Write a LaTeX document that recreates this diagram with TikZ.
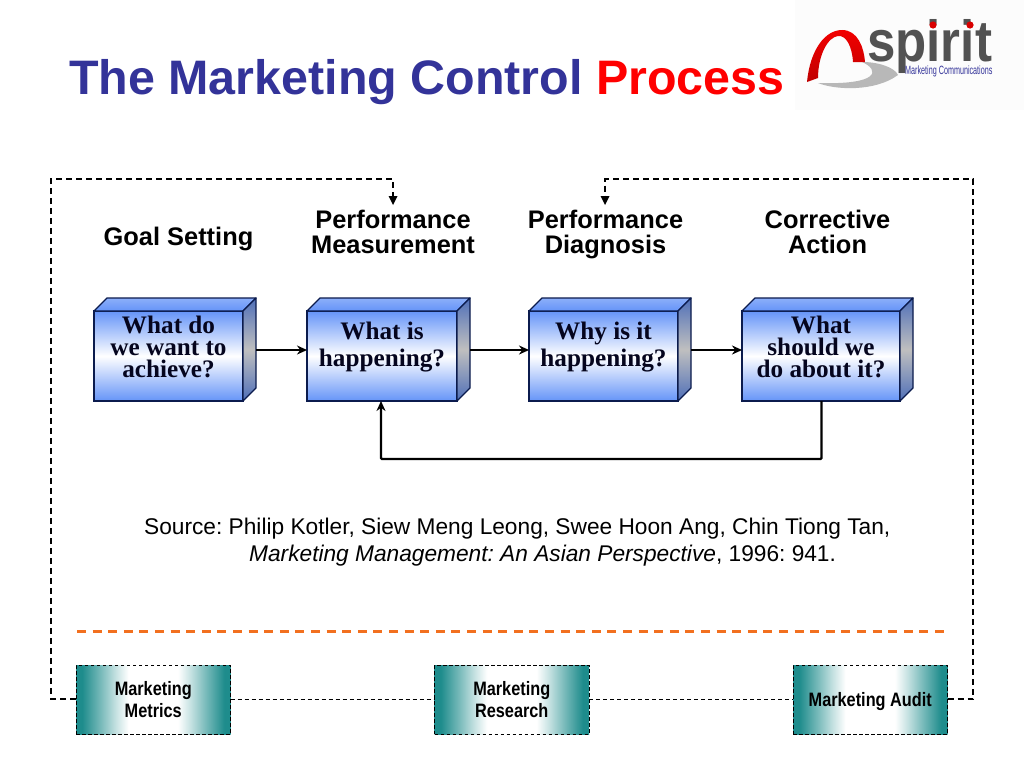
\documentclass[tikz,border=0pt]{standalone}
\usepackage{fontspec}
\setmainfont{Liberation Sans}
\newfontfamily\serifb[Scale=1]{Liberation Serif}
\newfontfamily\narrowb[FakeStretch=0.84]{Liberation Sans}
\newfontfamily\narrowc[FakeStretch=0.6]{Liberation Sans}
\newfontfamily\logof[FakeStretch=0.88]{Liberation Sans}
\usetikzlibrary{arrows.meta,calc}
\definecolor{titleblue}{HTML}{333399}
\definecolor{cubeblue}{HTML}{6594F8}
\definecolor{cubeedge}{HTML}{0B1B4D}
\definecolor{cubeside}{HTML}{4F6FB8}
\definecolor{tealc}{HTML}{1E8C8C}
\definecolor{orangec}{HTML}{F2701F}
\definecolor{inktext}{HTML}{05051E}
\pgfdeclarehorizontalshading{tealband}{100bp}{
  color(0bp)=(tealc); color(27bp)=(tealc); color(33bp)=(tealc!60!white); color(38bp)=(tealc!25!white);
  color(42bp)=(white); color(58bp)=(white); color(62bp)=(tealc!25!white); color(67bp)=(tealc!60!white);
  color(73bp)=(tealc); color(100bp)=(tealc)}
\tikzset{
  px/.style={x=1pt,y=-1pt},
  cubefront/.style={draw=cubeedge,line width=1.3pt,inner sep=0pt,outer sep=0pt,anchor=north west,
    minimum height=90pt,top color=cubeblue,bottom color=cubeblue,middle color=white},
  cubelabel/.style={inner sep=0pt,align=center,text=inktext},
  cubeface/.style={draw=cubeedge,line width=1.3pt,line join=round},
  head/.style={font=\fontsize{25.4}{25}\selectfont\bfseries,align=center,text=black,inner sep=0pt},
  flow/.style={line width=2.2pt,black,-{Stealth[length=10pt,width=9pt]}},
  loopd/.style={line width=1.2pt,black,dash pattern=on 6pt off 4pt},
  loopt/.style={line width=0.9pt,black,dash pattern=on 4pt off 3pt},
  toolbox/.style={draw=black,line width=0.9pt,dash pattern=on 3.5pt off 2.5pt,inner sep=0pt,outer sep=0pt,anchor=north west,
    minimum width=154.5pt,minimum height=69pt,align=center,shading=tealband,shading angle=0,
    font=\narrowb\fontsize{19.4}{22}\selectfont\bfseries,text=black},
  srctext/.style={font=\frenchspacing\fontsize{22.7}{22.7}\selectfont,anchor=west,inner sep=0pt,text=black},
}
% name, x, width, line spacing, text
\newcommand{\cubebox}[5]{%
  \node[cubefront,minimum width=#3pt] (#1) at (#2,311) {};
  \shadedraw[cubeface,top color=cubeblue!75!white,bottom color=cubeblue]
    (#1.north west) -- ++(13,-13) -- ++(#3,0) -- (#1.north east) -- cycle;
  \shadedraw[cubeface,top color=cubeside,bottom color=cubeside,middle color=black!25]
    (#1.north east) -- ++(13,-13) -- ++(0,90) -- (#1.south east) -- cycle;
  \node[cubelabel,font=\serifb\fontsize{25.2}{#4}\selectfont\bfseries] (#1label) at ($(#1.center)+(0,-9)$) {#5};
  \coordinate (#1out) at ($(#1.east)+(13,-6)$);
}
\begin{document}
\begin{tikzpicture}[px]
\useasboundingbox (0,0) rectangle (1024,768);
\fill[white] (0,0) rectangle (1024,768);
% title
\node[anchor=base west,inner sep=0pt,font=\fontsize{48.4}{48}\selectfont\bfseries,text=titleblue] (title) at (69,94)
  {The Marketing Control \textcolor{red}{Process}};
% logo
\fill[black!1] (795,0) rectangle (1024,110);
\fill[black!28] (818,83) .. controls (835,90) and (875,92) .. (898,75) .. controls (895,68) and (880,62) .. (862,62)
  .. controls (880,70) and (880,85) .. (818,83) -- cycle;
\shade[top color=red!95!black,bottom color=red!75!black] (807,82) .. controls (810,50) and (825,30) .. (842,30)
  .. controls (858,30) and (864,48) .. (865,62) -- (853,62)
  .. controls (852,46) and (846,35) .. (838,36) .. controls (828,37) and (818,55) .. (818,78) -- cycle;
\node[anchor=base west,inner sep=0pt,font=\logof\fontsize{58}{58}\selectfont\bfseries,text=black!68] (logotext) at (867,62) {spirit};
\fill[red!85!black] (933,25) circle (3.6pt) (970,25) circle (3.6pt);
\node[anchor=base west,inner sep=0pt,font=\narrowc\fontsize{12}{12}\selectfont,text=titleblue] (logosub) at (905,74.5) {Marketing Communications};
% dashed loop
\coordinate (mtarget) at (393,205);
\coordinate (dtarget) at (605,205);
\coordinate (tl) at (51,179);
\coordinate (bl) at (51,699);
\coordinate (tr) at (973,179);
\coordinate (br) at (973,699);
\coordinate (ltop) at (393,179);
\coordinate (rtop) at (605,179);
\node[toolbox] (metrics) at (76,665) {Marketing\\Metrics};
\node[toolbox] (research) at (434.5,665) {Marketing\\Research};
\node[toolbox,text height=14pt,text depth=0pt] (audit) at (793,665) {Marketing Audit};
\draw[loopd] (metrics.west |- bl) -- (bl) -- (tl) -- (ltop) -- ($(mtarget)+(0,-8)$);
\draw[loopd] (audit.east |- br) -- (br) -- (tr) -- (rtop) -- ($(dtarget)+(0,-8)$);
\fill (mtarget) -- ++(-4.5,-9) -- ++(9,0) -- cycle;
\fill (dtarget) -- ++(-4.5,-9) -- ++(9,0) -- cycle;
\draw[loopt] (metrics.east |- bl) -- (research.west |- bl);
\draw[loopt] (research.east |- bl) -- (audit.west |- bl);
% headings
\node[head] (goal) at (178.5,238.5) {Goal Setting};
\node[head] (perfm) at (393,232) {Performance\\Measurement};
\node[head] (perfd) at (605.5,234.5) {Performance\\Diagnosis};
\node[head] (corr) at (827.5,232) {Corrective\\Action};
% cubes
\cubebox{want}{94}{149}{22}{What do\\we want to\\achieve?}
\cubebox{happen}{307}{150}{27}{What is\\happening?}
\cubebox{why}{529}{149}{27}{Why is it\\happening?}
\cubebox{fix}{742}{158}{22}{What\\should we\\do about it?}
\draw[flow] (wantout) -- (happen.west |- wantout);
\draw[flow] (happenout) -- (why.west |- happenout);
\draw[flow] (whyout) -- (fix.west |- whyout);
\coordinate (fbr) at (821.5,459);
\coordinate (fbl) at (381,459);
\draw[flow,rounded corners=1pt] (fix.south -| fbr) -- (fbr) -- (fbl) -- (happen.south -| fbl);
% source
\node[srctext] (src1) at (144,529) {Source: Philip Kotler, Siew Meng Leong, Swee Hoon Ang, Chin Tiong Tan,};
\node[srctext] (src2) at (249,556) {\textit{Marketing Management: An Asian Perspective}, 1996: 941.};
% orange rule
\coordinate (oa) at (77,631);
\coordinate (ob) at (945,631);
\draw[orangec,line width=3pt,dash pattern=on 9pt off 6.6pt] (oa) -- (ob);
\end{tikzpicture}
\end{document}
